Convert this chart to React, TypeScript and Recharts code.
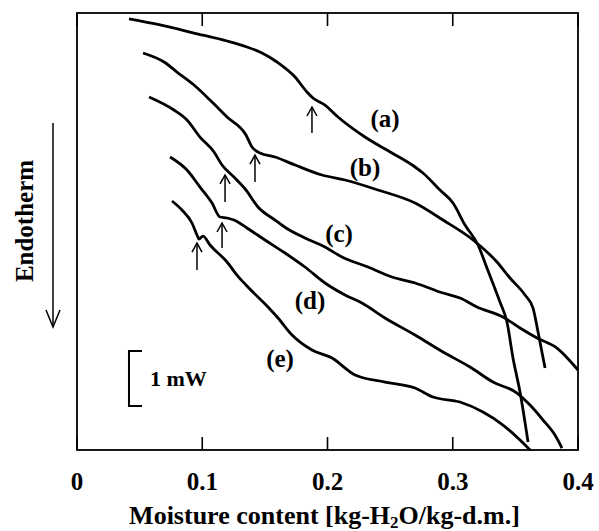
import { ComposedChart, Line, XAxis, YAxis, ReferenceLine, ReferenceDot } from 'recharts';

const SERIF = '"Liberation Serif", "Times New Roman", serif';

// moisture content [kg-H2O/kg-d.m.] vs. heat flow offset [mW] (0 = top of frame)
const curveA = [
  [0.0415, -0.109], [0.0663, -0.218], [0.0934, -0.364], [0.1198, -0.509], [0.1357, -0.618],
  [0.1477, -0.727], [0.1597, -0.891], [0.1741, -1.164], [0.1836, -1.436], [0.1884, -1.545],
  [0.198, -1.673], [0.2084, -1.891], [0.2299, -2.255], [0.2515, -2.545], [0.2699, -2.8],
  [0.2762, -2.909], [0.2898, -3.218], [0.3002, -3.455], [0.3098, -3.855], [0.3202, -4.218],
  [0.3273, -4.636], [0.3377, -5.255], [0.3433, -5.618], [0.3481, -6.273], [0.3537, -6.891],
  [0.3601, -7.8],
];
const curveB = [
  [0.0527, -0.727], [0.0695, -0.891], [0.0798, -1.073], [0.0934, -1.309], [0.1062, -1.582],
  [0.1198, -1.891], [0.1349, -2.218], [0.1397, -2.436], [0.1461, -2.545], [0.1581, -2.618],
  [0.1741, -2.764], [0.1956, -2.945], [0.214, -3.036], [0.2403, -3.218], [0.2699, -3.455],
  [0.2922, -3.764], [0.3162, -4.127], [0.3353, -4.527], [0.3457, -4.818], [0.3577, -5.127],
  [0.3641, -5.364], [0.3681, -5.8], [0.3737, -6.455],
];
const curveC = [
  [0.0575, -1.527], [0.0774, -1.764], [0.0878, -1.945], [0.0982, -2.255], [0.1094, -2.527],
  [0.1158, -2.764], [0.1253, -2.982], [0.1349, -3.218], [0.1445, -3.527], [0.1581, -3.764],
  [0.1669, -3.909], [0.182, -4.091], [0.198, -4.255], [0.2116, -4.436], [0.2323, -4.618],
  [0.2515, -4.8], [0.2699, -4.909], [0.2922, -5.091], [0.3058, -5.182], [0.3194, -5.345],
  [0.3401, -5.527], [0.3537, -5.727], [0.3673, -5.909], [0.3832, -6.091], [0.4, -6.491],
];
const curveD = [
  [0.0743, -2.618], [0.0878, -2.855], [0.0982, -3.164], [0.1078, -3.455], [0.1142, -3.709],
  [0.1198, -3.727], [0.1253, -3.764], [0.1357, -3.909], [0.1501, -4.127], [0.1661, -4.364],
  [0.182, -4.618], [0.198, -4.909], [0.214, -5.127], [0.2275, -5.273], [0.2459, -5.545],
  [0.2699, -5.855], [0.2922, -6.164], [0.3138, -6.436], [0.3321, -6.709], [0.3513, -6.909],
  [0.3617, -7.127], [0.3721, -7.4], [0.3816, -7.673], [0.3872, -7.909],
];
const curveE = [
  [0.0758, -3.418], [0.0838, -3.582], [0.0918, -3.818], [0.0958, -4.036], [0.0974, -4.109],
  [0.1006, -4.055], [0.1062, -4.218], [0.1198, -4.527], [0.1277, -4.764], [0.1349, -4.945],
  [0.1525, -5.345], [0.1605, -5.545], [0.1717, -5.855], [0.1876, -6.127], [0.2036, -6.273],
  [0.222, -6.582], [0.2459, -6.709], [0.2699, -6.818], [0.2842, -6.982], [0.3058, -7.073],
  [0.3241, -7.255], [0.3401, -7.491], [0.3537, -7.764], [0.3617, -7.945],
];

const CURVES = [curveA, curveB, curveC, curveD, curveE];
const CURVE_NAMES = ['(a)', '(b)', '(c)', '(d)', '(e)'];
const LABEL_X = [0.2459, 0.2299, 0.2092, 0.186, 0.1621];
const LABEL_Y = [-1.909, -2.818, -4.0, -5.218, -6.273];

// transition markers (arrows)
const ARROW_X = [0.1876, 0.1421, 0.1182, 0.1158, 0.0958];
const ARROW_TIP = [-1.709, -2.582, -2.945, -3.818, -4.182];
const ARROW_BASE = [-2.182, -3.073, -3.436, -4.273, -4.673];

// 1 mW scale bar
const BAR_X = 0.0415;
const BAR_TOP = -6.145;
const BAR_BOTTOM = -7.145;

const X_DOMAIN = [0, 0.4];
const X_TICKS = [0, 0.1, 0.2, 0.3, 0.4];
const X_TICK_LABELS = ['0', '0.1', '0.2', '0.3', '0.4'];
const Y_DOMAIN = [-7.945, 0];

const TOP = 13;

const toPoints = (arr: number[][]) => arr.map(([x, y]) => ({ x, y }));

const BottomTick = (p: any) => {
  const i = X_TICKS.indexOf(p.payload.value);
  return (
    <g>
      <line x1={p.x} y1={p.y} x2={p.x} y2={p.y - 13} stroke="#000" strokeWidth={1.6} />
      <line x1={p.x} y1={TOP} x2={p.x} y2={TOP + 13} stroke="#000" strokeWidth={1.6} />
      <text x={p.x} y={p.y + 40} textAnchor="middle" fontFamily={SERIF} fontWeight="bold" fontSize={25} fill="#000">
        {X_TICK_LABELS[i]}
      </text>
    </g>
  );
};

// frame + x title, drawn from the x axis box
const XTitle = (p: any) => {
  const vb = p.viewBox;
  return (
    <g>
      <rect x={vb.x} y={TOP} width={vb.width} height={vb.y - TOP} fill="none" stroke="#000" strokeWidth={1.8} />
      <text x={vb.x + vb.width / 2 - 3} y={vb.y + 74} textAnchor="middle" fontFamily={SERIF} fontWeight="bold" fontSize={26} fill="#000">
        Moisture content [kg-H<tspan fontSize={17} dy={4}>2</tspan><tspan dy={-4}>O/kg-d.m.]</tspan>
      </text>
    </g>
  );
};

const EndoLabel = (p: any) => {
  const vb = p.viewBox;
  const tx = vb.x + 24;
  const ty = vb.y + 208;
  const ax = vb.x + 53;
  return (
    <g>
      <text x={tx} y={ty} transform={`rotate(-90 ${tx} ${ty})`} textAnchor="middle" dominantBaseline="central"
        fontFamily={SERIF} fontWeight="bold" fontSize={25} fill="#000">
        Endotherm
      </text>
      <line x1={ax} y1={vb.y + 110} x2={ax} y2={vb.y + 314} stroke="#000" strokeWidth={1.5} />
      <polyline points={`${ax - 7},${vb.y + 297} ${ax},${vb.y + 314} ${ax + 7},${vb.y + 297}`} fill="none" stroke="#000" strokeWidth={1.5} />
    </g>
  );
};

const ArrowShape = (p: any) => {
  const x = p.x1;
  const tip = Math.min(p.y1, p.y2);
  const base = Math.max(p.y1, p.y2);
  return (
    <g>
      <line x1={x} y1={base} x2={x} y2={tip} stroke="#000" strokeWidth={1.5} />
      <polyline points={`${x - 5},${tip + 9} ${x},${tip} ${x + 5},${tip + 9}`} fill="none" stroke="#000" strokeWidth={1.5} />
    </g>
  );
};

const BarShape = (p: any) => {
  const x = p.x1;
  const top = Math.min(p.y1, p.y2);
  const bottom = Math.max(p.y1, p.y2);
  return (
    <g>
      <path d={`M${x + 13},${top} H${x} V${bottom} H${x + 13}`} fill="none" stroke="#000" strokeWidth={2} />
      <text x={x + 21} y={(top + bottom) / 2} dominantBaseline="central" fontFamily={SERIF} fontWeight="bold" fontSize={22} fill="#000">
        1 mW
      </text>
    </g>
  );
};

export default function App() {
  return (
    <div style={{ position: 'absolute', left: 0, top: 0, width: 599, height: 531, background: '#fff' }}>
      <ComposedChart width={599} height={531} margin={{ top: TOP, right: 21, bottom: 0, left: 0 }}>
        <XAxis
          type="number"
          dataKey="x"
          domain={X_DOMAIN}
          ticks={X_TICKS}
          height={81}
          axisLine={false}
          tickLine={false}
          tickSize={0}
          tickMargin={0}
          tick={BottomTick}
          label={XTitle}
          allowDataOverflow
        />
        <YAxis
          type="number"
          dataKey="y"
          domain={Y_DOMAIN}
          width={77}
          axisLine={false}
          tickLine={false}
          tick={false}
          label={EndoLabel}
          allowDataOverflow
        />
        {CURVES.map((c, i) => (
          <Line
            key={CURVE_NAMES[i]}
            data={toPoints(c)}
            dataKey="y"
            type="monotone"
            stroke="#000"
            strokeWidth={2.8}
            dot={false}
            activeDot={false}
            isAnimationActive={false}
          />
        ))}
        {ARROW_X.map((x, i) => (
          <ReferenceLine
            key={`arrow-${i}`}
            segment={[{ x, y: ARROW_BASE[i] }, { x, y: ARROW_TIP[i] }]}
            shape={ArrowShape}
            ifOverflow="visible"
          />
        ))}
        <ReferenceLine
          segment={[{ x: BAR_X, y: BAR_TOP }, { x: BAR_X, y: BAR_BOTTOM }]}
          shape={BarShape}
          ifOverflow="visible"
        />
        {CURVE_NAMES.map((name, i) => (
          <ReferenceDot
            key={`lbl-${name}`}
            x={LABEL_X[i]}
            y={LABEL_Y[i]}
            ifOverflow="visible"
            shape={(p: any) => (
              <text x={p.cx} y={p.cy} textAnchor="middle" dominantBaseline="central" fontFamily={SERIF} fontWeight="bold" fontSize={25} fill="#000">
                {name}
              </text>
            )}
          />
        ))}
      </ComposedChart>
    </div>
  );
}
